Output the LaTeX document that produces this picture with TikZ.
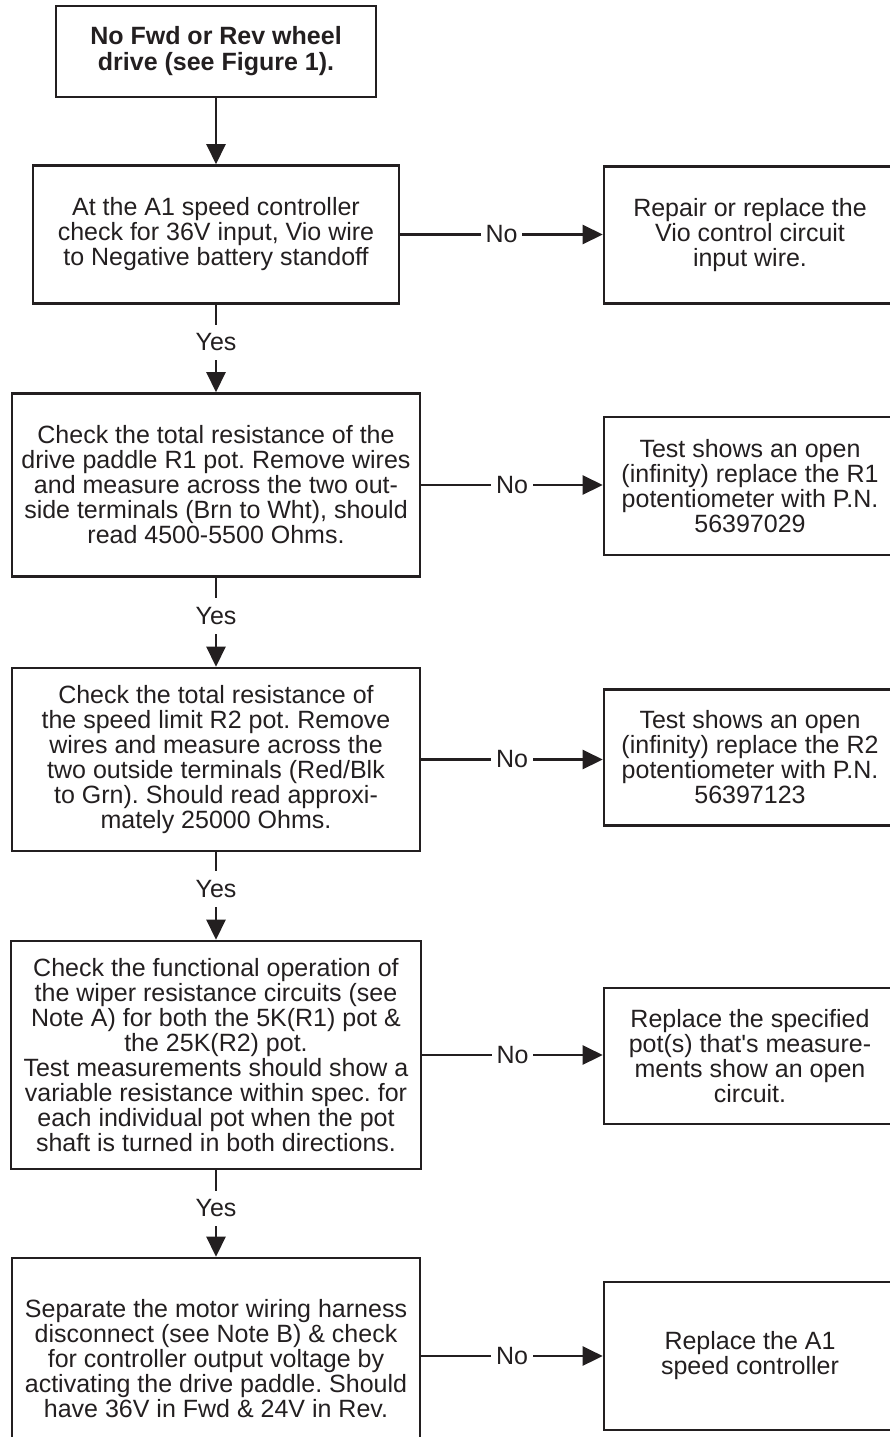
\documentclass[tikz,border=0pt]{standalone}
\usepackage{fontspec}
\setmainfont{Liberation Sans}[Ligatures=TeXOff]
\usetikzlibrary{arrows.meta}
\definecolor{ink}{RGB}{35,31,32}
\frenchspacing
\begin{document}
\begin{tikzpicture}[x=1pt,y={(0pt,-1pt)},
  box/.style={draw=ink, line width=2.6pt, align=center, inner sep=2pt,
    font=\fontsize{25}{25}\selectfont\frenchspacing, text=ink},
  flow/.style={draw=ink, line width=2.5pt, -{Triangle[length=20pt,width=19pt]}},
  lbl/.style={fill=white, inner xsep=5pt, inner ysep=9pt, font=\fontsize{25}{25}\selectfont, text=ink}]
\useasboundingbox (0,0) rectangle (890,1437);
\clip (0,0) rectangle (890,1437);

\node[box, minimum width=320pt, minimum height=91pt, font=\bfseries\fontsize{25}{26}\selectfont] (start) at (216,51.5) {No Fwd or Rev wheel\\drive (see Figure 1).};

\node[box, minimum width=366pt, minimum height=138pt] (b2) at (216,234.5) {At the A1 speed controller\\check for 36V input, Vio wire\\to Negative battery standoff};
\node[box, minimum width=292pt, minimum height=137pt] (r1) at (750,235) {Repair or replace the\\Vio control circuit\\input wire.};

\node[box, minimum width=408pt, minimum height=183pt] (b3) at (216,485) {Check the total resistance of the\\drive paddle R1 pot. Remove wires\\and measure across the two out-\\side terminals (Brn to Wht), should\\read 4500-5500 Ohms.};
\node[box, minimum width=292pt, minimum height=138pt] (r2) at (750,486) {Test shows an open\\(infinity) replace the R1\\potentiometer with P.N.\\56397029};

\node[box, minimum width=408pt, minimum height=183pt] (b4) at (216,759.5) {Check the total resistance of\\the speed limit R2 pot. Remove\\wires and measure across the\\two outside terminals (Red/Blk\\to Grn). Should read approxi-\\mately 25000 Ohms.};
\node[box, minimum width=292pt, minimum height=136pt] (r3) at (750,757.5) {Test shows an open\\(infinity) replace the R2\\potentiometer with P.N.\\56397123};

\node[box, minimum width=410pt, minimum height=228pt] (b5) at (216,1055) {Check the functional operation of\\the wiper resistance circuits (see\\Note A) for both the 5K(R1) pot \&\\the 25K(R2) pot.\\Test measurements should show a\\variable resistance within spec. for\\each individual pot when the pot\\shaft is turned in both directions.};
\node[box, minimum width=292pt, minimum height=136pt] (r4) at (750,1056) {Replace the specified\\pot(s) that's measure-\\ments show an open\\circuit.};

\node[box, minimum width=408pt, minimum height=202pt] (b6) at (216,1359) {Separate the motor wiring harness\\disconnect (see Note B) \& check\\for controller output voltage by\\activating the drive paddle. Should\\have 36V in Fwd \& 24V in Rev.};
\node[box, minimum width=292pt, minimum height=148pt] (r5) at (750,1356) {Replace the A1\\speed controller};

\draw[flow] (start.south) -- (b2.north);
\draw[flow] (b2.south) -- node[lbl, pos=0.43] {Yes} (b3.north);
\draw[flow] (b3.south) -- node[lbl, pos=0.43] {Yes} (b4.north);
\draw[flow] (b4.south) -- node[lbl, pos=0.42] {Yes} (b5.north);
\draw[flow] (b5.south) -- node[lbl, pos=0.44] {Yes} (b6.north);

\draw[flow] (b2.east) -- node[lbl] {No} (b2.east -| r1.west);
\draw[flow] (b3.east) -- node[lbl] {No} (b3.east -| r2.west);
\draw[flow] (b4.east) -- node[lbl] {No} (b4.east -| r3.west);
\draw[flow] (b5.east) -- node[lbl] {No} (b5.east -| r4.west);
\draw[flow] (b6.east |- r5.west) -- node[lbl] {No} (r5.west);
\end{tikzpicture}
\end{document}
